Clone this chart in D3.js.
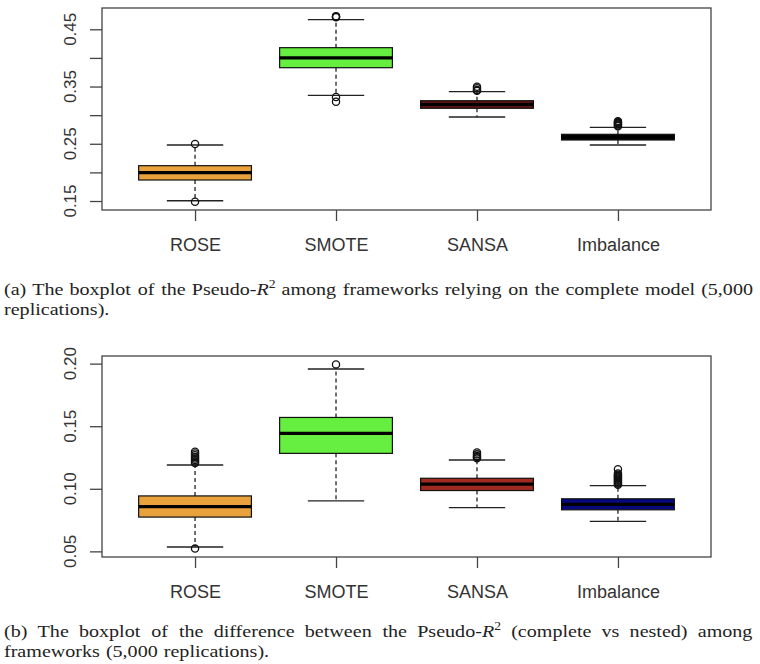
<!DOCTYPE html>
<html>
<head>
<meta charset="utf-8">
<script src="https://cdn.jsdelivr.net/npm/d3@7"></script>
<style>
  html, body { margin: 0; padding: 0; background: #fff; }
  svg { display: block; }
</style>
</head>
<body>
<svg id="chart" width="760" height="664"></svg>
<script>
// ---------------- DATA ----------------
const categories = ["ROSE", "SMOTE", "SANSA", "Imbalance"];

// Panel (a): Pseudo-R2, complete model
const aLowerWhisker = [0.1505, 0.3346, 0.2968, 0.2479];
const aQ1           = [0.1867, 0.3829, 0.3120, 0.2566];
const aMedian       = [0.1995, 0.3999, 0.3186, 0.2615];
const aQ3           = [0.2117, 0.4179, 0.3252, 0.2665];
const aUpperWhisker = [0.2479, 0.4668, 0.3410, 0.2788];
const aOutliers = [
  [0.2496, 0.1488],
  [0.4712, 0.4720, 0.4730, 0.3317, 0.3235],
  [0.3425, 0.3440, 0.3470, 0.3497],
  [0.2805, 0.2820, 0.2835, 0.2850, 0.2865, 0.2880, 0.2895]
];
const aTicks  = [0.15, 0.20, 0.25, 0.30, 0.35, 0.40, 0.45];
const aLabels = [0.15, 0.25, 0.35, 0.45];
const aDomain = [0.1343, 0.4872];

// Panel (b): difference of Pseudo-R2 (complete vs nested)
const bLowerWhisker = [0.0535, 0.0904, 0.0850, 0.0739];
const bQ1           = [0.0774, 0.1283, 0.0986, 0.0832];
const bMedian       = [0.0858, 0.1443, 0.1037, 0.0876];
const bQ3           = [0.0943, 0.1570, 0.1084, 0.0920];
const bUpperWhisker = [0.1190, 0.1957, 0.1230, 0.1025];
const bOutliers = [
  [0.1206, 0.1218, 0.1230, 0.1242, 0.1255, 0.1268, 0.1282, 0.1296, 0.0522],
  [0.1994],
  [0.1245, 0.1254, 0.1262, 0.1275, 0.1290],
  [0.1032, 0.1040, 0.1048, 0.1056, 0.1064, 0.1072, 0.1080, 0.1088, 0.1096, 0.1104, 0.1112, 0.1122, 0.1156]
];
const bTicks  = [0.05, 0.10, 0.15, 0.20];
const bLabels = [0.05, 0.10, 0.15, 0.20];
const bDomain = [0.0455, 0.2061];

// Captions
const captionA = [
  "(a) The boxplot of the Pseudo-{R}^{2} among frameworks relying on the complete model (5,000",
  "replications)."
];
const captionB = [
  "(b) The boxplot of the difference between the Pseudo-{R}^{2} (complete vs nested) among",
  "frameworks (5,000 replications)."
];

// ---------------- STYLE / LAYOUT ----------------
const fillsA = ["#e9a23b", "#66ee40", "#5e1212", "#0a0a0a"];
const fillsB = ["#e9a23b", "#66ee40", "#a02a20", "#08087e"];

const svg = d3.select("#chart");
const plotLeft = 102, plotRight = 711;
const x = d3.scaleLinear().domain([0.34, 4.66]).range([plotLeft, plotRight]);
const boxW = 0.8, stapleW = 0.4;

function panel(cfg) {
  const y = d3.scaleLinear().domain(cfg.domain).range([cfg.bottom, cfg.top]);
  const g = svg.append("g");

  categories.forEach((c, i) => {
    const cx = x(i + 1);
    const bx0 = x(i + 1 - boxW / 2), bx1 = x(i + 1 + boxW / 2);
    const sx0 = x(i + 1 - stapleW / 2), sx1 = x(i + 1 + stapleW / 2);
    g.append("line").attr("x1", cx).attr("x2", cx)
      .attr("y1", y(cfg.q3[i])).attr("y2", y(cfg.uw[i]))
      .attr("stroke", "#111").attr("stroke-width", 1.2).attr("stroke-dasharray", "4,3");
    g.append("line").attr("x1", cx).attr("x2", cx)
      .attr("y1", y(cfg.q1[i])).attr("y2", y(cfg.lw[i]))
      .attr("stroke", "#111").attr("stroke-width", 1.2).attr("stroke-dasharray", "4,3");
    [cfg.uw[i], cfg.lw[i]].forEach(v => {
      g.append("line").attr("x1", sx0).attr("x2", sx1)
        .attr("y1", y(v)).attr("y2", y(v))
        .attr("stroke", "#222").attr("stroke-width", 1.3);
    });
    g.append("rect")
      .attr("x", bx0).attr("width", bx1 - bx0)
      .attr("y", y(cfg.q3[i])).attr("height", y(cfg.q1[i]) - y(cfg.q3[i]))
      .attr("fill", cfg.fills[i]).attr("stroke", "#111").attr("stroke-width", 1.2);
    g.append("line").attr("x1", bx0).attr("x2", bx1)
      .attr("y1", y(cfg.med[i])).attr("y2", y(cfg.med[i]))
      .attr("stroke", "#000").attr("stroke-width", 3.2);
    g.selectAll(null).data(cfg.out[i]).enter().append("circle")
      .attr("cx", cx).attr("cy", d => y(d)).attr("r", 3.6)
      .attr("fill", "none").attr("stroke", "#111").attr("stroke-width", 1.3);
  });

  g.append("rect").attr("x", plotLeft).attr("y", cfg.top)
    .attr("width", plotRight - plotLeft).attr("height", cfg.bottom - cfg.top)
    .attr("fill", "none").attr("stroke", "#444").attr("stroke-width", 1.3);

  const ya = g.append("g").attr("transform", `translate(${plotLeft},0)`)
    .call(d3.axisLeft(y).tickValues(cfg.ticks).tickSize(12).tickFormat(""));
  ya.select(".domain").remove();
  ya.selectAll(".tick line").attr("stroke", "#444").attr("stroke-width", 1.3);
  g.selectAll(null).data(cfg.labels).enter().append("text")
    .attr("transform", d => `translate(76,${y(d)}) rotate(-90)`)
    .attr("text-anchor", "middle")
    .attr("font-family", "Liberation Sans, Arial, sans-serif")
    .attr("font-size", 17).attr("fill", "#333")
    .text(d => d3.format(".2f")(d));

  const xa = g.append("g").attr("transform", `translate(0,${cfg.bottom})`)
    .call(d3.axisBottom(x).tickValues([1, 2, 3, 4]).tickSize(11)
      .tickFormat((d, i) => categories[i]));
  xa.select(".domain").remove();
  xa.selectAll(".tick line").attr("stroke", "#444").attr("stroke-width", 1.3);
  xa.selectAll(".tick text").attr("y", 41).attr("dy", null)
    .attr("font-family", "Liberation Sans, Arial, sans-serif")
    .attr("font-size", 18).attr("fill", "#333");
}

panel({ domain: aDomain, top: 8, bottom: 210, lw: aLowerWhisker, q1: aQ1, med: aMedian,
  q3: aQ3, uw: aUpperWhisker, out: aOutliers, ticks: aTicks, labels: aLabels, fills: fillsA });
panel({ domain: bDomain, top: 356, bottom: 557, lw: bLowerWhisker, q1: bQ1, med: bMedian,
  q3: bQ3, uw: bUpperWhisker, out: bOutliers, ticks: bTicks, labels: bLabels, fills: fillsB });

// ---------------- CAPTIONS ----------------
const capFont = "Liberation Serif, 'DejaVu Serif', serif";
const capSize = 17.5;
const capLeft = 4, capRight = 753;
const spaceEm = 0.3;

function parseWord(w) {
  const segs = [];
  const re = /\{([^}]*)\}\^\{([^}]*)\}/g;
  let last = 0, m;
  while ((m = re.exec(w)) !== null) {
    if (m.index > last) segs.push({ t: w.slice(last, m.index) });
    segs.push({ t: m[1], italic: true });
    segs.push({ t: m[2], sup: true });
    last = re.lastIndex;
  }
  if (last < w.length) segs.push({ t: w.slice(last) });
  return segs;
}

function makeWord(parent, w, yb) {
  const t = parent.append("text").attr("y", yb)
    .attr("font-family", capFont).attr("font-size", capSize).attr("fill", "#222");
  parseWord(w).forEach(s => {
    const ts = t.append("tspan").text(s.t);
    if (s.italic) ts.attr("font-style", "italic");
    if (s.sup) ts.attr("font-size", capSize * 0.68).attr("baseline-shift", "super");
  });
  return t;
}

// horizontal stretch so that caption (a) line 1 fills the width with normal spaces
function naturalWidth(line) {
  const tmp = svg.append("g");
  const words = line.split(" ");
  const total = d3.sum(words.map(w => makeWord(tmp, w, -100).node().getBBox().width));
  tmp.remove();
  return total + (words.length - 1) * spaceEm * capSize;
}
const sx = (capRight - capLeft) / naturalWidth(captionA[0]);

function caption(lines, baseline0, lineGap) {
  const g = svg.append("g").attr("transform", `translate(${capLeft},0) scale(${sx},1)`);
  const W = (capRight - capLeft) / sx;
  lines.forEach((line, li) => {
    const yb = baseline0 + li * lineGap;
    const justify = li < lines.length - 1;
    const words = line.split(" ");
    const nodes = words.map(w => makeWord(g, w, yb));
    const widths = nodes.map(n => n.node().getBBox().width);
    const total = d3.sum(widths);
    const space = justify ? (W - total) / (words.length - 1) : capSize * spaceEm;
    let cx = 0;
    nodes.forEach((n, i) => { n.attr("x", cx); cx += widths[i] + space; });
  });
}

caption(captionA, 295, 20);
caption(captionB, 637, 20);
</script>
</body>
</html>
